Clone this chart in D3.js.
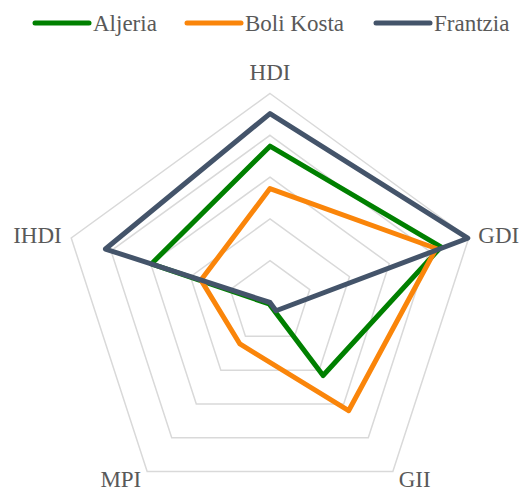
<!DOCTYPE html>
<html>
<head>
<meta charset="utf-8">
<script src="https://cdn.jsdelivr.net/npm/d3@7"></script>
<style>
  body { margin: 0; background: #fff; }
</style>
</head>
<body>
<script>
let axes = ['HDI', 'GDI', 'GII', 'MPI', 'IHDI']
let countries = ['Aljeria', 'Boli Kosta', 'Frantzia']
let aljeria = [0.748, 0.860, 0.432, 0.008, 0.597]
let boliKosta = [0.545, 0.836, 0.640, 0.245, 0.347]
let frantzia = [0.904, 0.995, 0.049, 0.0, 0.828]
let levels = [0.2, 0.4, 0.6, 0.8, 1.0]

SVG_WIDTH = 520
SVG_HEIGHT = 488
CX = 270
CY = 302.5
R = 209
COLORS = ['#008000', '#fa850a', '#44546a']
TEXT_COLOR = '#595959'
FONT = 'Liberation Serif'
FONT_SIZE = 23

let series = [aljeria, boliKosta, frantzia]

let svg = d3.select('body').append('svg')
            .attr('width', SVG_WIDTH)
            .attr('height', SVG_HEIGHT)
            .style('display', 'block')

let rScale = d3.scaleLinear().domain([0, 1]).range([0, R])
let angle = d3.scalePoint().domain(axes.concat(['_end'])).range([0, 2 * Math.PI])

let radial = d3.lineRadial()
                .angle((d, i) => angle(axes[i]))
                .radius(d => rScale(d))
                .curve(d3.curveLinearClosed)

let g = svg.append('g').attr('transform', `translate(${CX},${CY})`)

// grid pentagons
g.selectAll('.grid')
  .data(levels)
  .join('path')
  .classed('grid', true)
  .attr('d', lv => radial(axes.map(() => lv)))
  .attr('fill', 'none')
  .attr('stroke', '#d9d9d9')
  .attr('stroke-width', 1.5)

// series
g.selectAll('.series')
  .data(series)
  .join('path')
  .classed('series', true)
  .attr('d', d => radial(d))
  .attr('fill', 'none')
  .attr('stroke', (d, i) => COLORS[i])
  .attr('stroke-width', 5)
  .attr('stroke-linejoin', 'round')

// axis labels
let labelPos = (a) => {
  let t = angle(a)
  let r = R + 10
  return [r * Math.sin(t), -r * Math.cos(t)]
}

g.selectAll('.axis-label')
  .data(axes)
  .join('text')
  .classed('axis-label', true)
  .attr('x', a => labelPos(a)[0])
  .attr('y', a => labelPos(a)[1])
  .attr('text-anchor', a => {
    let s = Math.sin(angle(a))
    return Math.abs(s) < 0.01 ? 'middle' : (s > 0 ? 'start' : 'end')
  })
  .attr('dy', a => a == 'HDI' ? -4 : (a == 'GII' || a == 'MPI' ? 7 : 8.5))
  .attr('font-family', FONT)
  .attr('font-size', FONT_SIZE)
  .attr('fill', TEXT_COLOR)
  .text(a => a)

// legend
let legendX = [35, 187, 376]
let legend = svg.selectAll('.legend')
  .data(countries)
  .join('g')
  .classed('legend', true)
  .attr('transform', (d, i) => `translate(${legendX[i]},23)`)

legend.append('line')
  .attr('x1', 0).attr('x2', 54)
  .attr('stroke', (d, i) => COLORS[i])
  .attr('stroke-width', 5)
  .attr('stroke-linecap', 'round')

legend.append('text')
  .attr('x', 58)
  .attr('y', 8)
  .attr('font-family', FONT)
  .attr('font-size', FONT_SIZE)
  .attr('fill', TEXT_COLOR)
  .text(d => d)
</script>
</body>
</html>
